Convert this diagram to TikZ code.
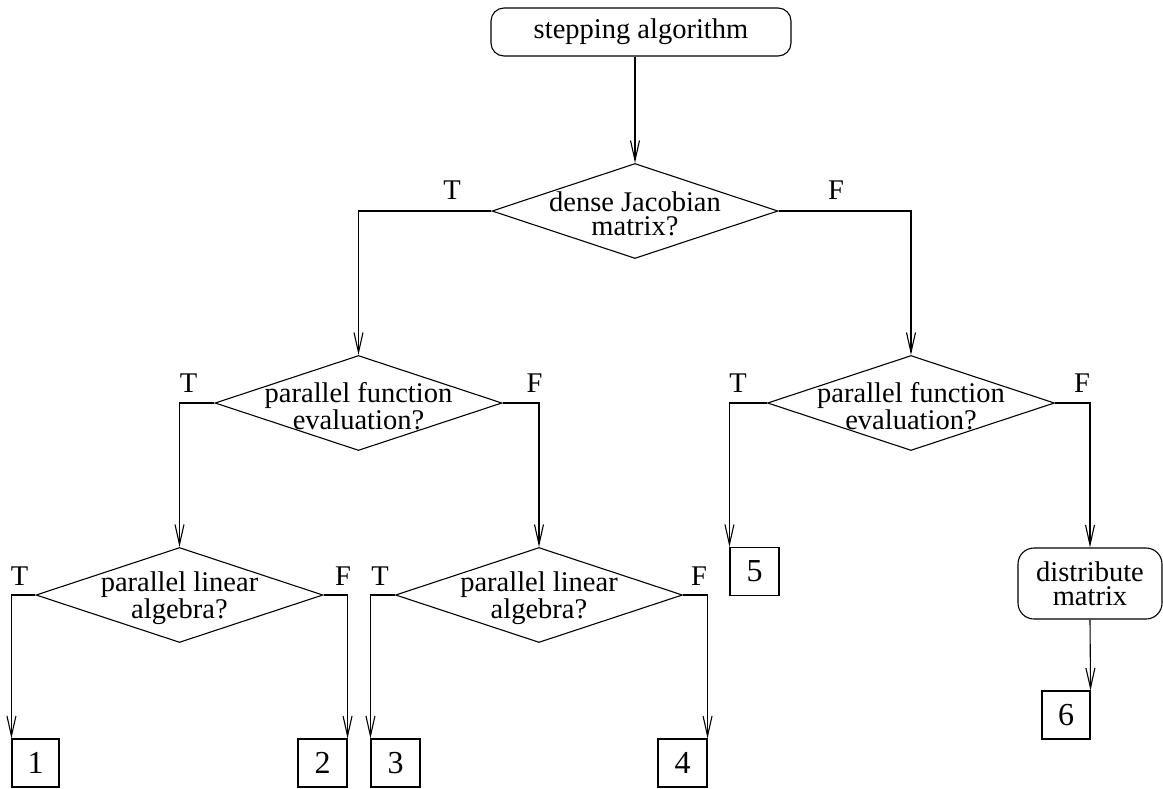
\documentclass[tikz,border=0pt]{standalone}
\usepackage{fontspec}
\setmainfont{Liberation Serif}
\usetikzlibrary{shapes.geometric,arrows.meta}
\begin{document}
\begin{tikzpicture}[x=1pt,y=-1pt,
  every node/.style={font=\fontsize{28.5}{24}\selectfont},
  lw/.style={line width=1.1pt},
  arr/.style={lw,-{Straight Barb[length=20pt,width=9pt,line width=1.1pt]}},
  dia/.style={draw,lw,shape=diamond,inner sep=0pt,minimum width=287pt,minimum height=95pt},
  rbox/.style={draw,lw,rounded corners=13pt,inner sep=0pt,align=center},
  nbox/.style={draw,lw,inner sep=0pt,minimum height=48pt,font=\fontsize{32}{32}\selectfont},
  dtext/.style={align=center,inner sep=0pt},
  lab/.style={anchor=base,inner sep=0pt}]
\useasboundingbox (0,0) rectangle (1163,788);
% nodes
\node[rbox,minimum width=300pt,minimum height=48pt] (start) at (641,32) {stepping algorithm};
\node[dia,minimum width=286pt] (d1) at (635,211) {};
\node[dtext] (t1) at (635,214) {dense Jacobian\\matrix?};
\node[dia] (d2) at (358.5,403) {};
\node[dtext] (t2) at (358.5,406) {parallel function\\evaluation?};
\node[dia] (d3) at (911,403) {};
\node[dtext] (t3) at (911,406) {parallel function\\evaluation?};
\node[dia] (d4) at (179.5,595) {};
\node[dtext] (t4) at (179.5,598) {parallel linear\\algebra?};
\node[dia] (d5) at (539,595) {};
\node[dtext] (t5) at (539,598) {parallel linear\\algebra?};
\node[nbox,minimum width=47pt] (b1) at (35.5,763) {1\hspace{8pt}};
\node[nbox,minimum width=49pt] (b2) at (322.5,763) {2\hspace{8pt}};
\node[nbox,minimum width=49pt] (b3) at (395.5,763) {3\hspace{8pt}};
\node[nbox,minimum width=49pt] (b4) at (682.5,763) {4\hspace{8pt}};
\node[nbox,minimum width=49pt] (b5) at (754.5,571.5) {5\hspace{8pt}};
\node[rbox,minimum width=144pt,minimum height=71pt,rounded corners=16pt] (dm) at (1090,583.5) {distribute\\matrix};
\node[nbox,minimum width=48pt] (b6) at (1066,715) {6\hspace{8pt}};
% labels
\node[lab] (l1t) at (452,199) {T};
\node[lab] (l1f) at (836,199) {F};
\node[lab] (l2t) at (188.5,392) {T};
\node[lab] (l2f) at (534.5,392) {F};
\node[lab] (l3t) at (738,392) {T};
\node[lab] (l3f) at (1082,392) {F};
\node[lab] (l4t) at (19.5,585) {T};
\node[lab] (l4f) at (343,585) {F};
\node[lab] (l5t) at (380,585) {T};
\node[lab] (l5f) at (699,585) {F};
% connectors
\draw[arr] (start.south -| d1.north) -- (d1.north);
\draw[arr] (d1.west) -| (d2.north);
\draw[arr] (d1.east) -| (d3.north);
\draw[arr] (d2.west) -| (d4.north);
\draw[arr] (d2.east) -| (d5.north);
\draw[arr] (d4.west) -| (b1.north west);
\draw[arr] (d4.east) -| (b2.north east);
\draw[arr] (d5.west) -| (b3.north west);
\draw[arr] (d5.east) -| (b4.north east);
\draw[arr] (d3.west) -| (b5.north west);
\draw[arr] (d3.east) -| (dm.north);
\draw[arr] (dm.south) -- (b6.north east);
\end{tikzpicture}
\end{document}
